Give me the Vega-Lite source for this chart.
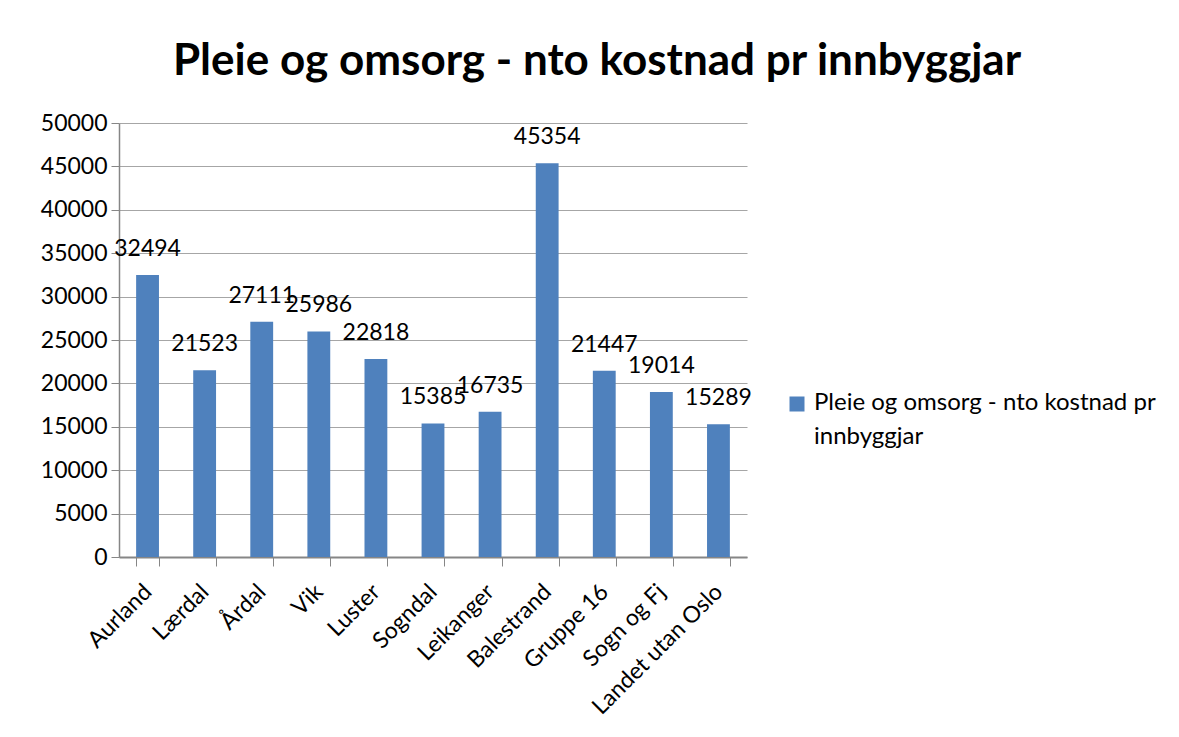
{
  "$schema": "https://vega.github.io/schema/vega-lite/v6.json",
  "width": 628,
  "height": 434,
  "autosize": {"type": "none"},
  "padding": {"left": 119, "top": 123, "right": 432, "bottom": 180},
  "background": "white",
  "title": {
    "text": "Pleie og omsorg - nto kostnad pr innbyggjar",
    "font": "Lato",
    "fontSize": 44,
    "fontWeight": "bold",
    "color": "black",
    "anchor": "middle",
    "dx": 164,
    "offset": 28
  },
  "data": {
    "values": [
      {"kommune": "Aurland", "verdi": 32494, "serie": "Pleie og omsorg - nto kostnad pr innbyggjar"},
      {"kommune": "Lærdal", "verdi": 21523, "serie": "Pleie og omsorg - nto kostnad pr innbyggjar"},
      {"kommune": "Årdal", "verdi": 27111, "serie": "Pleie og omsorg - nto kostnad pr innbyggjar"},
      {"kommune": "Vik", "verdi": 25986, "serie": "Pleie og omsorg - nto kostnad pr innbyggjar"},
      {"kommune": "Luster", "verdi": 22818, "serie": "Pleie og omsorg - nto kostnad pr innbyggjar"},
      {"kommune": "Sogndal", "verdi": 15385, "serie": "Pleie og omsorg - nto kostnad pr innbyggjar"},
      {"kommune": "Leikanger", "verdi": 16735, "serie": "Pleie og omsorg - nto kostnad pr innbyggjar"},
      {"kommune": "Balestrand", "verdi": 45354, "serie": "Pleie og omsorg - nto kostnad pr innbyggjar"},
      {"kommune": "Gruppe 16", "verdi": 21447, "serie": "Pleie og omsorg - nto kostnad pr innbyggjar"},
      {"kommune": "Sogn og Fj", "verdi": 19014, "serie": "Pleie og omsorg - nto kostnad pr innbyggjar"},
      {"kommune": "Landet utan Oslo", "verdi": 15289, "serie": "Pleie og omsorg - nto kostnad pr innbyggjar"}
    ]
  },
  "encoding": {
    "x": {
      "field": "kommune",
      "type": "nominal",
      "sort": null,
      "scale": {"paddingInner": 0.6, "paddingOuter": 0.3},
      "axis": {
        "title": null,
        "labelAngle": -45,
        "labelAlign": "right",
        "labelBaseline": "middle",
        "labelFont": "Lato",
        "labelFontSize": 23,
        "labelColor": "black",
        "labelPadding": 22,
        "tickBand": "extent",
        "tickSize": 9,
        "tickColor": "#868686",
        "domainColor": "#868686",
        "domainWidth": 2,
        "grid": false
      }
    },
    "y": {
      "field": "verdi",
      "type": "quantitative",
      "scale": {"domain": [0, 50000], "nice": false},
      "axis": {
        "title": null,
        "values": [0, 5000, 10000, 15000, 20000, 25000, 30000, 35000, 40000, 45000, 50000],
        "format": "d",
        "labelFont": "Lato",
        "labelFontSize": 23,
        "labelColor": "black",
        "labelPadding": 4,
        "tickSize": 8,
        "tickColor": "#868686",
        "domainColor": "#868686",
        "domainWidth": 1.5,
        "grid": true,
        "gridColor": "#a6a6a6",
        "gridWidth": 1.2
      }
    }
  },
  "layer": [
    {
      "mark": {"type": "bar"},
      "encoding": {
        "color": {
          "field": "serie",
          "type": "nominal",
          "scale": {"range": ["#4F81BD"]},
          "legend": {
            "title": null,
            "orient": "none",
            "legendX": 666,
            "legendY": 269,
            "symbolType": "square",
            "symbolSize": 225,
            "symbolStrokeWidth": 0,
            "labelFont": "Lato",
            "labelFontSize": 24,
            "labelColor": "black",
            "labelOffset": 5,
            "labelLimit": 420,
            "labelExpr": "['Pleie og omsorg - nto kostnad pr', 'innbyggjar']",
            "labelBaseline": "alphabetic",
            "encode": {
              "labels": {
                "enter": {"lineHeight": {"value": 34}},
                "update": {"lineHeight": {"value": 34}, "dy": {"value": 6}}
              },
              "symbols": {"update": {"fill": {"value": "#4F81BD"}, "opacity": {"value": 1}}}
            }
          }
        }
      }
    },
    {
      "mark": {"type": "text", "font": "Lato", "fontSize": 23, "color": "black", "baseline": "alphabetic", "dy": -19},
      "encoding": {
        "text": {"field": "verdi", "type": "quantitative", "format": "d"}
      }
    }
  ],
  "config": {
    "view": {"stroke": null}
  }
}
